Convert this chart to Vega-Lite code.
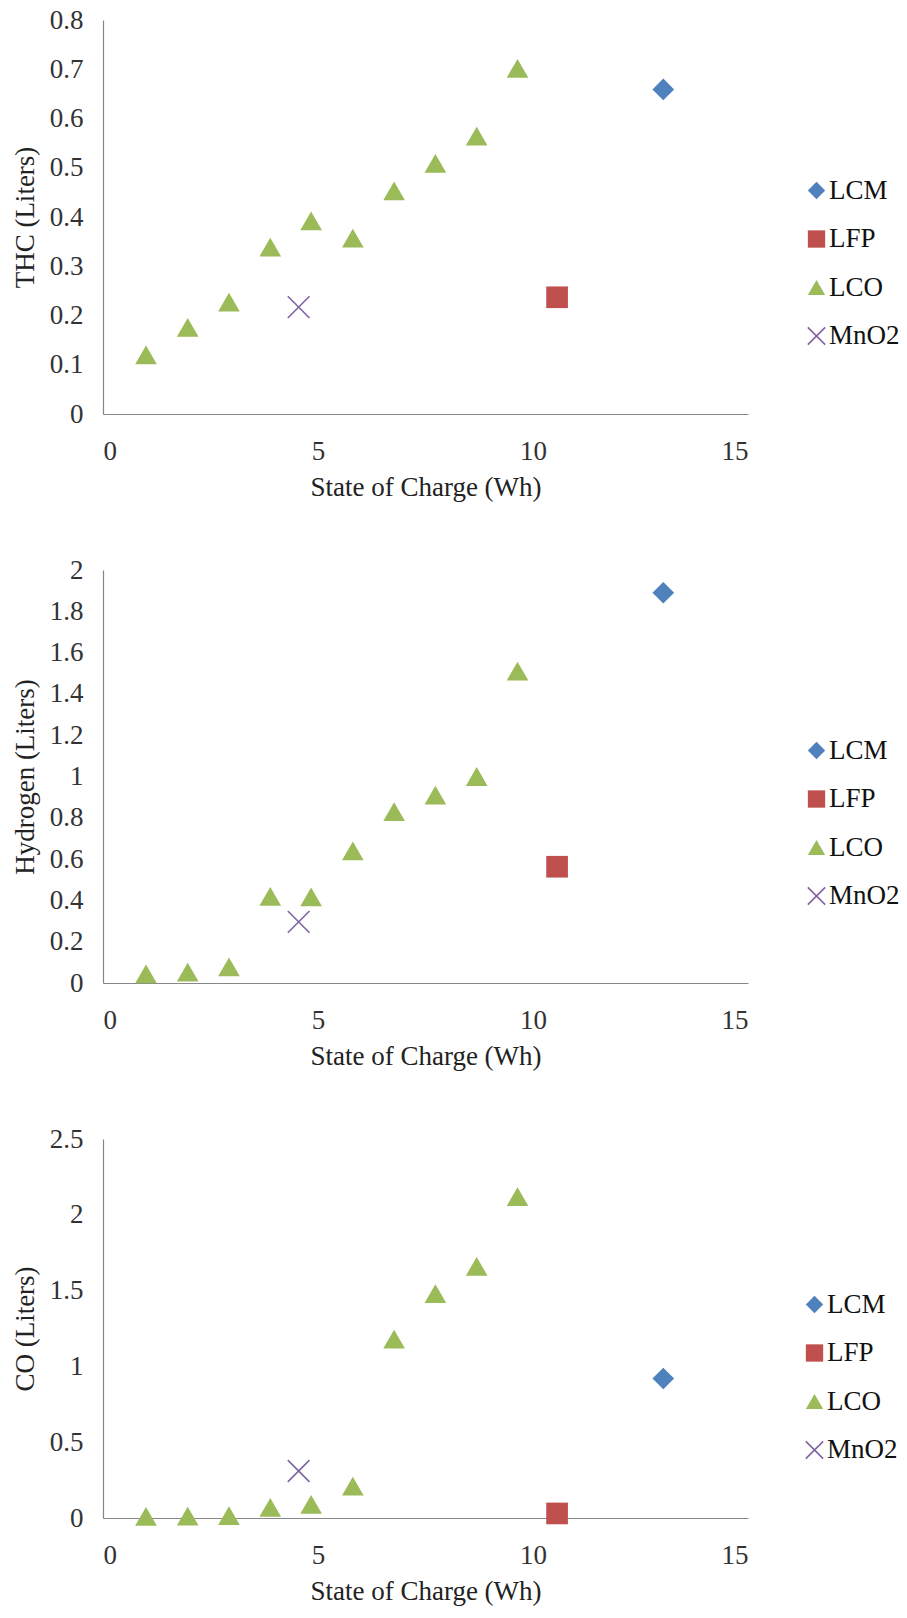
{
  "$schema": "https://vega.github.io/schema/vega-lite/v6.json",
  "padding": {"left": 11, "top": 6, "right": 5, "bottom": 5},
  "background": "white",
  "data": {
    "values": [
      {"series": "LCM", "soc": 13.03, "thc": 0.659, "h2": 1.89, "co": 0.92},
      {"series": "LFP", "soc": 10.56, "thc": 0.237, "h2": 0.563, "co": 0.03},
      {"series": "LCO", "soc": 1.0, "thc": 0.12, "h2": 0.044, "co": 0.01},
      {"series": "LCO", "soc": 1.97, "thc": 0.176, "h2": 0.053, "co": 0.012},
      {"series": "LCO", "soc": 2.93, "thc": 0.227, "h2": 0.078, "co": 0.015},
      {"series": "LCO", "soc": 3.89, "thc": 0.339, "h2": 0.42, "co": 0.07},
      {"series": "LCO", "soc": 4.84, "thc": 0.392, "h2": 0.417, "co": 0.09},
      {"series": "LCO", "soc": 5.81, "thc": 0.357, "h2": 0.64, "co": 0.21},
      {"series": "LCO", "soc": 6.77, "thc": 0.453, "h2": 0.83, "co": 1.18},
      {"series": "LCO", "soc": 7.73, "thc": 0.509, "h2": 0.91, "co": 1.48},
      {"series": "LCO", "soc": 8.69, "thc": 0.564, "h2": 1.0, "co": 1.66},
      {"series": "LCO", "soc": 9.64, "thc": 0.702, "h2": 1.51, "co": 2.12},
      {"series": "MnO2", "soc": 4.55, "thc": 0.217, "h2": 0.296, "co": 0.31}
    ]
  },
  "vconcat": [
    {
      "width": 645, "height": 394,
      "mark": {"type": "point", "filled": true, "opacity": 1, "size": 470, "strokeWidth": 1.6},
      "encoding": {
        "x": {"field": "soc", "type": "quantitative", "title": "State of Charge (Wh)",
              "scale": {"domain": [0, 15], "nice": false},
              "axis": {"values": [0, 5, 10, 15]}},
        "y": {"field": "thc", "type": "quantitative", "title": "THC (Liters)",
              "scale": {"domain": [0, 0.8], "nice": false},
              "axis": {"values": [0, 0.1, 0.2, 0.3, 0.4, 0.5, 0.6, 0.7, 0.8]}},
        "shape": {"field": "series", "type": "nominal", "title": null,
                  "scale": {"domain": ["LCM", "LFP", "LCO", "MnO2"], "range": ["diamond", "square", "triangle-up", "M-1,-1L1,1M-1,1L1,-1"]},
                  "legend": {"orient": "none", "legendX": 700, "legendY": 157}},
        "fill": {"field": "series", "type": "nominal", "title": null,
                 "scale": {"domain": ["LCM", "LFP", "LCO", "MnO2"], "range": ["#4F81BD", "#C0504D", "#9BBB59", "#8064A2"]},
                 "legend": {"orient": "none", "legendX": 700, "legendY": 157}},
        "stroke": {"field": "series", "type": "nominal", "title": null,
                   "scale": {"domain": ["LCM", "LFP", "LCO", "MnO2"], "range": ["transparent", "transparent", "transparent", "#8064A2"]},
                   "legend": {"orient": "none", "legendX": 700, "legendY": 157}}
      }
    },
    {
      "width": 645, "height": 413,
      "mark": {"type": "point", "filled": true, "opacity": 1, "size": 470, "strokeWidth": 1.6},
      "encoding": {
        "x": {"field": "soc", "type": "quantitative", "title": "State of Charge (Wh)",
              "scale": {"domain": [0, 15], "nice": false},
              "axis": {"values": [0, 5, 10, 15]}},
        "y": {"field": "h2", "type": "quantitative", "title": "Hydrogen (Liters)",
              "scale": {"domain": [0, 2], "nice": false},
              "axis": {"values": [0, 0.2, 0.4, 0.6, 0.8, 1, 1.2, 1.4, 1.6, 1.8, 2]}},
        "shape": {"field": "series", "type": "nominal", "title": null,
                  "scale": {"domain": ["LCM", "LFP", "LCO", "MnO2"], "range": ["diamond", "square", "triangle-up", "M-1,-1L1,1M-1,1L1,-1"]},
                  "legend": {"orient": "none", "legendX": 700, "legendY": 167}},
        "fill": {"field": "series", "type": "nominal", "title": null,
                 "scale": {"domain": ["LCM", "LFP", "LCO", "MnO2"], "range": ["#4F81BD", "#C0504D", "#9BBB59", "#8064A2"]},
                 "legend": {"orient": "none", "legendX": 700, "legendY": 167}},
        "stroke": {"field": "series", "type": "nominal", "title": null,
                   "scale": {"domain": ["LCM", "LFP", "LCO", "MnO2"], "range": ["transparent", "transparent", "transparent", "#8064A2"]},
                   "legend": {"orient": "none", "legendX": 700, "legendY": 167}}
      }
    },
    {
      "width": 645, "height": 379,
      "mark": {"type": "point", "filled": true, "opacity": 1, "size": 470, "strokeWidth": 1.6},
      "encoding": {
        "x": {"field": "soc", "type": "quantitative", "title": "State of Charge (Wh)",
              "scale": {"domain": [0, 15], "nice": false},
              "axis": {"values": [0, 5, 10, 15]}},
        "y": {"field": "co", "type": "quantitative", "title": "CO (Liters)",
              "scale": {"domain": [0, 2.5], "nice": false},
              "axis": {"values": [0, 0.5, 1, 1.5, 2, 2.5]}},
        "shape": {"field": "series", "type": "nominal", "title": null,
                  "scale": {"domain": ["LCM", "LFP", "LCO", "MnO2"], "range": ["diamond", "square", "triangle-up", "M-1,-1L1,1M-1,1L1,-1"]},
                  "legend": {"orient": "none", "legendX": 698, "legendY": 152}},
        "fill": {"field": "series", "type": "nominal", "title": null,
                 "scale": {"domain": ["LCM", "LFP", "LCO", "MnO2"], "range": ["#4F81BD", "#C0504D", "#9BBB59", "#8064A2"]},
                 "legend": {"orient": "none", "legendX": 698, "legendY": 152}},
        "stroke": {"field": "series", "type": "nominal", "title": null,
                   "scale": {"domain": ["LCM", "LFP", "LCO", "MnO2"], "range": ["transparent", "transparent", "transparent", "#8064A2"]},
                   "legend": {"orient": "none", "legendX": 698, "legendY": 152}}
      }
    }
  ],
  "spacing": 156,
  "bounds": "flush",
  "resolve": {"scale": {"y": "independent", "x": "independent", "shape": "independent", "fill": "independent", "stroke": "independent"},
              "legend": {"shape": "independent", "fill": "independent", "stroke": "independent"}},
  "config": {
    "view": {"stroke": null},
    "font": "Liberation Serif, Times New Roman, serif",
    "axis": {
      "grid": false, "ticks": false, "tickSize": 0,
      "domainColor": "#878787", "domainWidth": 1.2,
      "labelFont": "Liberation Serif, Times New Roman, serif", "labelFontSize": 27, "labelColor": "#333333",
      "titleFont": "Liberation Serif, Times New Roman, serif", "titleFontSize": 27, "titleFontWeight": "normal", "titleColor": "#222222",
      "format": "~g"
    },
    "axisX": {"labelPadding": 24, "titlePadding": 10},
    "axisY": {"labelPadding": 20, "titlePadding": 10},
    "legend": {
      "padding": 0, "labelFont": "Liberation Serif, Times New Roman, serif", "labelFontSize": 27, "labelColor": "#111111",
      "symbolSize": 300, "symbolStrokeWidth": 1.6, "labelOffset": -1, "rowPadding": 20.5, "symbolOpacity": 1
    }
  }
}
